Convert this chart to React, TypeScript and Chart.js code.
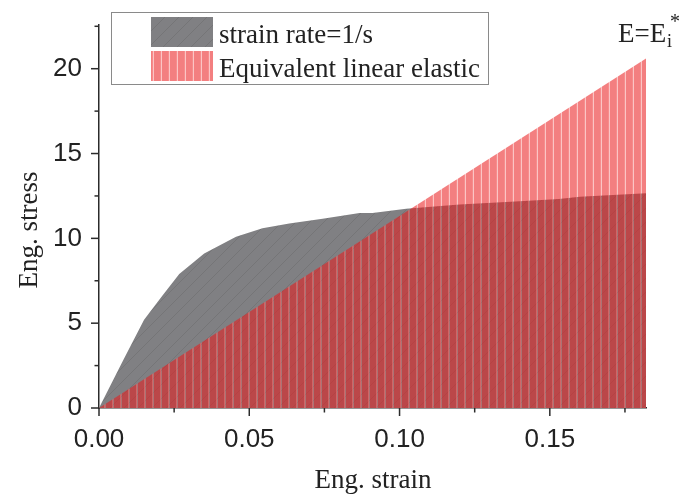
import React, { useEffect, useRef } from "react";
import { Chart, registerables } from "chart.js";

Chart.register(...registerables);

// ---- Data ----
const seriesLabels = ["strain rate=1/s", "Equivalent linear elastic"];
const grayStrain = [0, 0.008, 0.015, 0.021, 0.0267, 0.035, 0.0456, 0.0544, 0.0633, 0.0744, 0.0867, 0.091, 0.1022, 0.12, 0.14, 0.153, 0.16, 0.182];
const grayStress = [0, 2.8, 5.2, 6.6, 7.9, 9.1, 10.1, 10.6, 10.87, 11.15, 11.49, 11.49, 11.75, 12.0, 12.18, 12.32, 12.45, 12.66];
const linStrain = [0, 0.182];
const linStress = [0, 20.6];
const xMajorTicks = [0, 0.05, 0.1, 0.15];
const xMinorTicks = [0.025, 0.075, 0.125, 0.175];
const yMajorTicks = [0, 5, 10, 15, 20];
const yMinorTicks = [2.5, 7.5, 12.5, 17.5, 22.5];
const xTitle = "Eng. strain";
const yTitle = "Eng. stress";

const SERIF = "'Liberation Serif', 'Times New Roman', serif";
const SANS = "'Liberation Sans', Arial, sans-serif";
const AXIS_COLOR = "#2b2b2b";

function makeGrayPattern(ctx: CanvasRenderingContext2D): CanvasPattern | string {
  const c = document.createElement("canvas");
  const s = 14;
  c.width = s;
  c.height = s;
  const g = c.getContext("2d");
  if (!g) return "#808083";
  g.fillStyle = "#808083";
  g.fillRect(0, 0, s, s);
  g.strokeStyle = "rgba(100,100,104,0.6)";
  g.lineWidth = 0.7;
  for (const off of [-s, 0, s]) {
    g.beginPath();
    g.moveTo(off, s);
    g.lineTo(off + s, 0);
    g.stroke();
  }
  return ctx.createPattern(c, "repeat") || "#808083";
}

function makeRedPattern(ctx: CanvasRenderingContext2D): CanvasPattern | string {
  const c = document.createElement("canvas");
  const w = 8;
  c.width = w;
  c.height = 4;
  const g = c.getContext("2d");
  if (!g) return "rgba(233,26,28,0.55)";
  g.fillStyle = "rgba(233,26,28,0.56)";
  g.fillRect(0, 0, w, 4);
  g.clearRect(0, 0, 1.5, 4);
  g.fillStyle = "rgba(243,91,91,0.7)";
  g.fillRect(0, 0, 1.5, 4);
  return ctx.createPattern(c, "repeat") || "rgba(233,26,28,0.55)";
}

export default function App() {
  const canvasRef = useRef<HTMLCanvasElement | null>(null);

  useEffect(() => {
    const canvas = canvasRef.current;
    if (!canvas) return;
    const ctx = canvas.getContext("2d");
    if (!ctx) return;
    const grayPat = makeGrayPattern(ctx);
    const redPat = makeRedPattern(ctx);

    const decorPlugin = {
      id: "decor",
      afterDraw(chart: any) {
        const c = chart.ctx as CanvasRenderingContext2D;
        const xs = chart.scales.x;
        const ys = chart.scales.y;
        const area = chart.chartArea;
        c.save();
        // ticks
        c.strokeStyle = AXIS_COLOR;
        c.lineWidth = 1.5;
        const xAxisY = area.bottom;
        const yAxisX = area.left;
        const drawX = (v: number, len: number) => {
          const px = xs.getPixelForValue(v);
          c.beginPath();
          c.moveTo(px, xAxisY);
          c.lineTo(px, xAxisY + len);
          c.stroke();
        };
        const drawY = (v: number, len: number) => {
          const py = ys.getPixelForValue(v);
          c.beginPath();
          c.moveTo(yAxisX, py);
          c.lineTo(yAxisX - len, py);
          c.stroke();
        };
        xMajorTicks.forEach((v) => drawX(v, 8));
        xMinorTicks.forEach((v) => drawX(v, 4.5));
        yMajorTicks.forEach((v) => drawY(v, 8));
        yMinorTicks.forEach((v) => drawY(v, 4.5));

        // axis titles
        c.fillStyle = "#222";
        c.font = `27px ${SERIF}`;
        c.textAlign = "center";
        c.textBaseline = "alphabetic";
        c.fillText(xTitle, (area.left + area.right) / 2 + 0.5, 488);
        c.save();
        c.translate(37, 230);
        c.rotate(-Math.PI / 2);
        c.fillText(yTitle, 0, 0);
        c.restore();

        // legend
        c.fillStyle = "#ffffff";
        c.fillRect(111, 12, 377, 72);
        c.strokeStyle = "#8a8a8a";
        c.lineWidth = 1;
        c.strokeRect(111.5, 12.5, 377, 72);
        c.fillStyle = grayPat as any;
        c.fillRect(151, 17, 62, 30);
        c.fillStyle = redPat as any;
        c.fillRect(151, 51, 62, 30);
        c.fillStyle = "#222";
        c.textAlign = "left";
        c.font = `27px ${SERIF}`;
        c.fillText(seriesLabels[0], 219, 43);
        c.fillText(seriesLabels[1], 219, 77);

        // annotation E=Ei*
        c.font = `27px ${SERIF}`;
        c.fillText("E=E", 618, 42);
        c.font = `18px ${SERIF}`;
        c.fillText("i", 667, 47);
        c.font = `20px ${SERIF}`;
        c.fillText("*", 670, 28);
        c.restore();
      },
    };

    const chart = new Chart(ctx, {
      type: "line",
      data: {
        datasets: [
          {
            label: seriesLabels[1],
            data: linStrain.map((x, i) => ({ x, y: linStress[i] })),
            fill: "origin",
            backgroundColor: redPat as any,
            borderWidth: 0,
            borderColor: "rgba(0,0,0,0)",
            pointRadius: 0,
            tension: 0,
          },
          {
            label: seriesLabels[0],
            data: grayStrain.map((x, i) => ({ x, y: grayStress[i] })),
            fill: "origin",
            backgroundColor: grayPat as any,
            borderWidth: 0,
            borderColor: "rgba(0,0,0,0)",
            pointRadius: 0,
            tension: 0,
          },
        ],
      },
      plugins: [decorPlugin],
      options: {
        animation: false,
        responsive: false,
        devicePixelRatio: 1,
        layout: { padding: { left: 0, top: 7, right: 34, bottom: 0 } },
        plugins: {
          legend: { display: false },
          tooltip: { enabled: false },
          title: { display: false },
        },
        scales: {
          x: {
            type: "linear",
            min: 0,
            max: 0.182,
            grid: { display: false, drawTicks: true, tickLength: 8 },
            border: { display: true, color: AXIS_COLOR, width: 1.5 },
            ticks: {
              stepSize: 0.05,
              includeBounds: false,
              autoSkip: false,
              maxRotation: 0,
              padding: 8,
              color: "#222",
              font: { family: SANS, size: 26 },
              callback: (v: any) => Number(v).toFixed(2),
            },
            afterFit: (scale: any) => {
              scale.height = 95;
            },
          },
          y: {
            type: "linear",
            min: 0,
            max: 22.6,
            grid: { display: false, drawTicks: true, tickLength: 8 },
            border: { display: true, color: AXIS_COLOR, width: 1.5 },
            ticks: {
              stepSize: 5,
              includeBounds: false,
              autoSkip: false,
              padding: 9,
              color: "#222",
              font: { family: SANS, size: 26 },
              callback: (v: any) => String(v),
            },
            afterFit: (scale: any) => {
              scale.width = 99;
            },
          },
        },
      },
    });
    return () => chart.destroy();
  }, []);

  return (
    <div style={{ position: "fixed", left: 0, top: 0, width: 680, height: 503, background: "#fff" }}>
      <canvas ref={canvasRef} width={680} height={503} style={{ display: "block", width: 680, height: 503 }} />
    </div>
  );
}
